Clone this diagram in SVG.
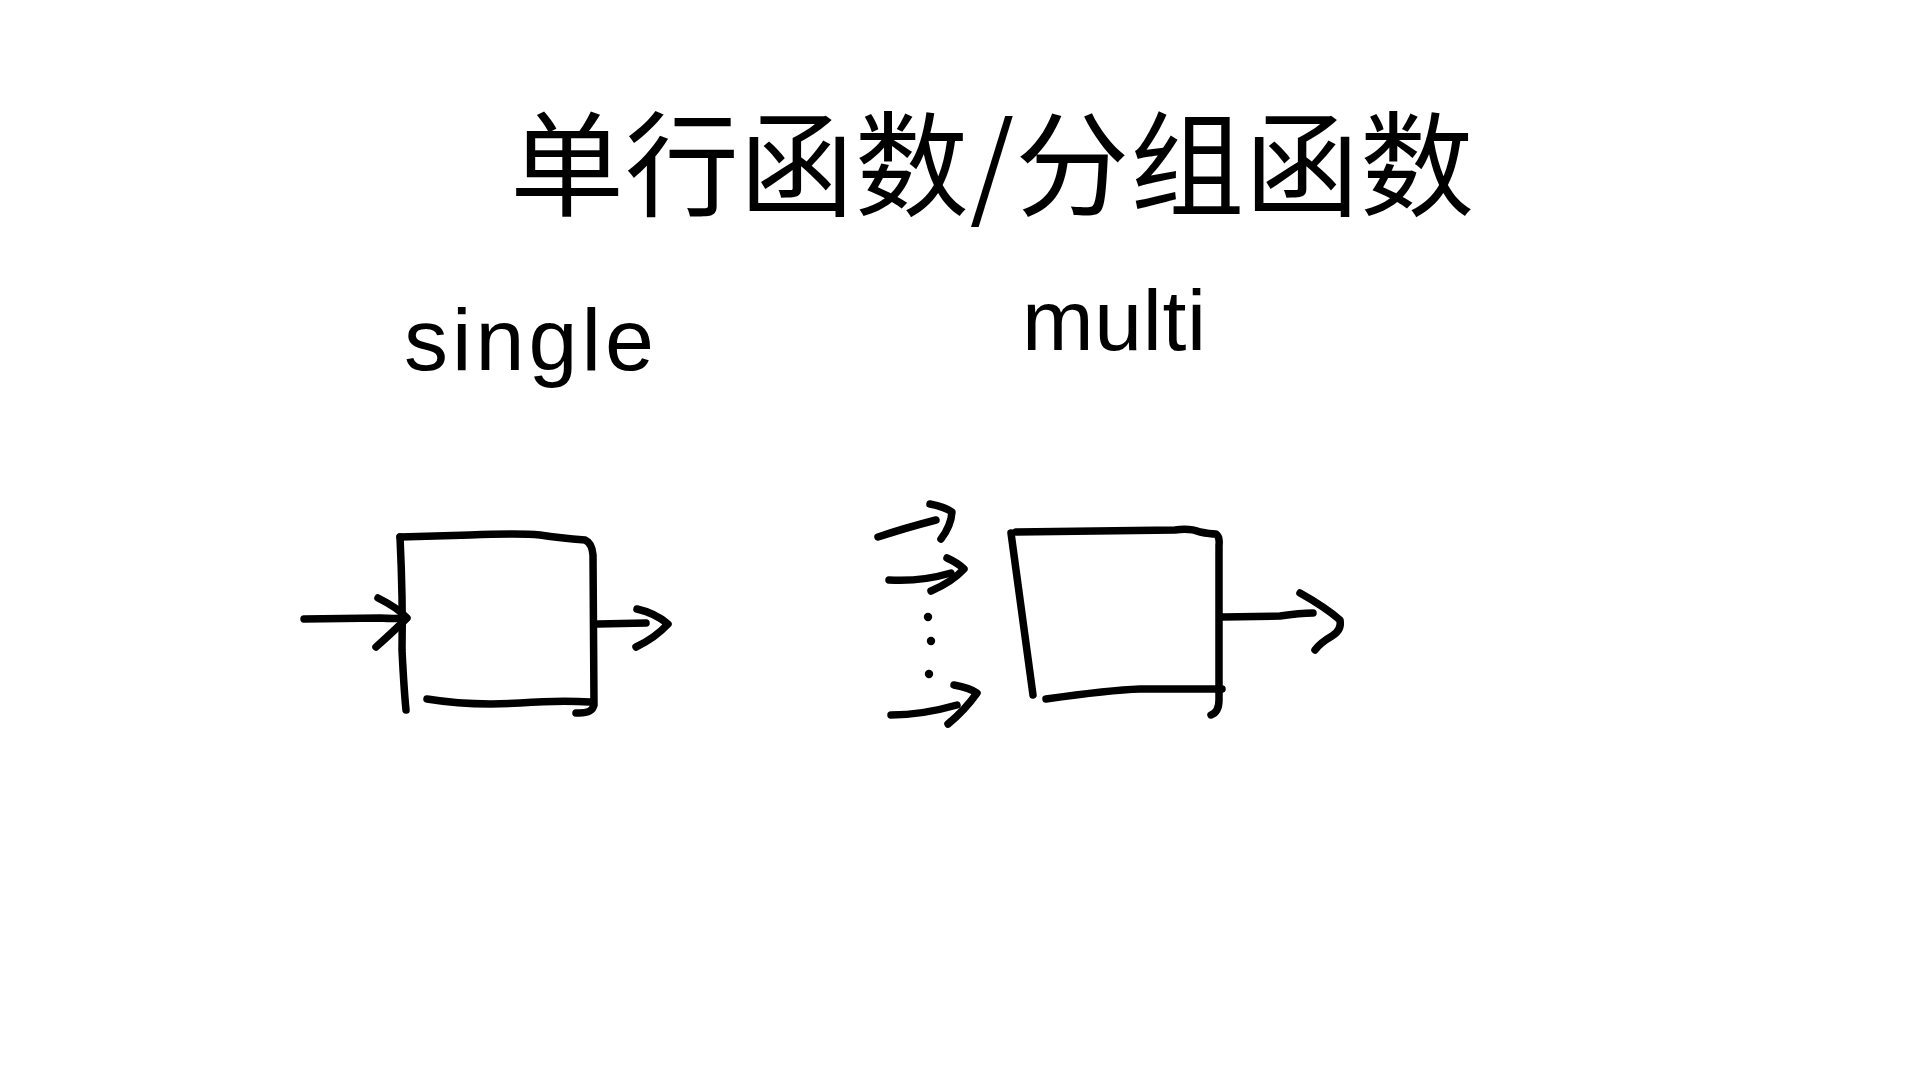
<svg xmlns="http://www.w3.org/2000/svg" width="1920" height="1080" viewBox="0 0 1920 1080">
<style>
.pen{fill:none;stroke:#000;stroke-width:7.5;stroke-linecap:round;stroke-linejoin:round}
.hand{font-family:"Liberation Sans","Noto Sans",sans-serif;fill:#000}
.cjk{font-family:"Noto Sans CJK SC","Noto Sans",sans-serif;fill:#000}
</style>
<rect width="1920" height="1080" fill="#fff"/>
<g id="title">
<text class="cjk" x="992" y="207" font-size="114" text-anchor="middle" textLength="964" lengthAdjust="spacing">单行函数/分组函数</text>
</g>
<g id="label-single">
<text class="hand" x="404" y="370" font-size="88" textLength="250" lengthAdjust="spacing">single</text>
</g>
<g id="label-multi">
<text class="hand" x="1022" y="350" font-size="86" textLength="184" lengthAdjust="spacing">multi</text>
</g>
<g id="box-single">
<path class="pen" d="M400,537 Q403,600 402,650 Q404,690 406,710"/>
<path class="pen" d="M400,537 L470,535 Q520,533 540,535 Q560,538 585,540 Q592,543 593,555 L594,705 Q592,714 576,713"/>
<path class="pen" d="M427,699 Q470,706 520,703 Q560,700 590,702"/>
</g>
<g id="box-multi">
<path class="pen" d="M1011,533 Q1023,620 1033,695"/>
<path class="pen" d="M1016,532 L1175,530 Q1190,528 1200,532 Q1210,534 1216,534 Q1220,537 1219,545 L1219,700 Q1219,712 1211,715"/>
<path class="pen" d="M1046,699 Q1110,690 1140,689 L1222,689"/>
</g>
<g id="connectors">
<g id="in-single">
<path class="pen" d="M304,619 L380,618 Q395,619 405,618"/>
<path class="pen" d="M378,598 Q398,608 407,618 Q395,630 376,647"/>
</g>
<g id="out-single">
<path class="pen" d="M598,624 L646,623"/>
<path class="pen" d="M637,609 Q655,613 668,624 Q655,638 636,647"/>
</g>
<g id="in-multi-1">
<path class="pen" d="M878,537 Q905,528 936,520"/>
<path class="pen" d="M930,504 Q945,507 952,512 Q951,526 941,539"/>
</g>
<g id="in-multi-2">
<path class="pen" d="M889,580 Q920,582 951,573"/>
<path class="pen" d="M947,558 Q958,563 964,569 Q952,582 931,591"/>
</g>
<g id="in-multi-3">
<path class="pen" d="M891,715 Q922,715 957,705"/>
<path class="pen" d="M954,685 Q970,688 977,693 Q965,710 948,724"/>
</g>
<g id="out-multi">
<path class="pen" d="M1223,617 L1280,616 Q1300,613 1313,613"/>
<path class="pen" d="M1300,593 Q1325,607 1340,620 Q1342,630 1332,636 Q1320,643 1315,650"/>
</g>
<g fill="#000">
<circle cx="928" cy="617" r="4.2"/>
<circle cx="931" cy="641" r="4.2"/>
<circle cx="929" cy="674" r="4.2"/>
</g>
</g>
</svg>
